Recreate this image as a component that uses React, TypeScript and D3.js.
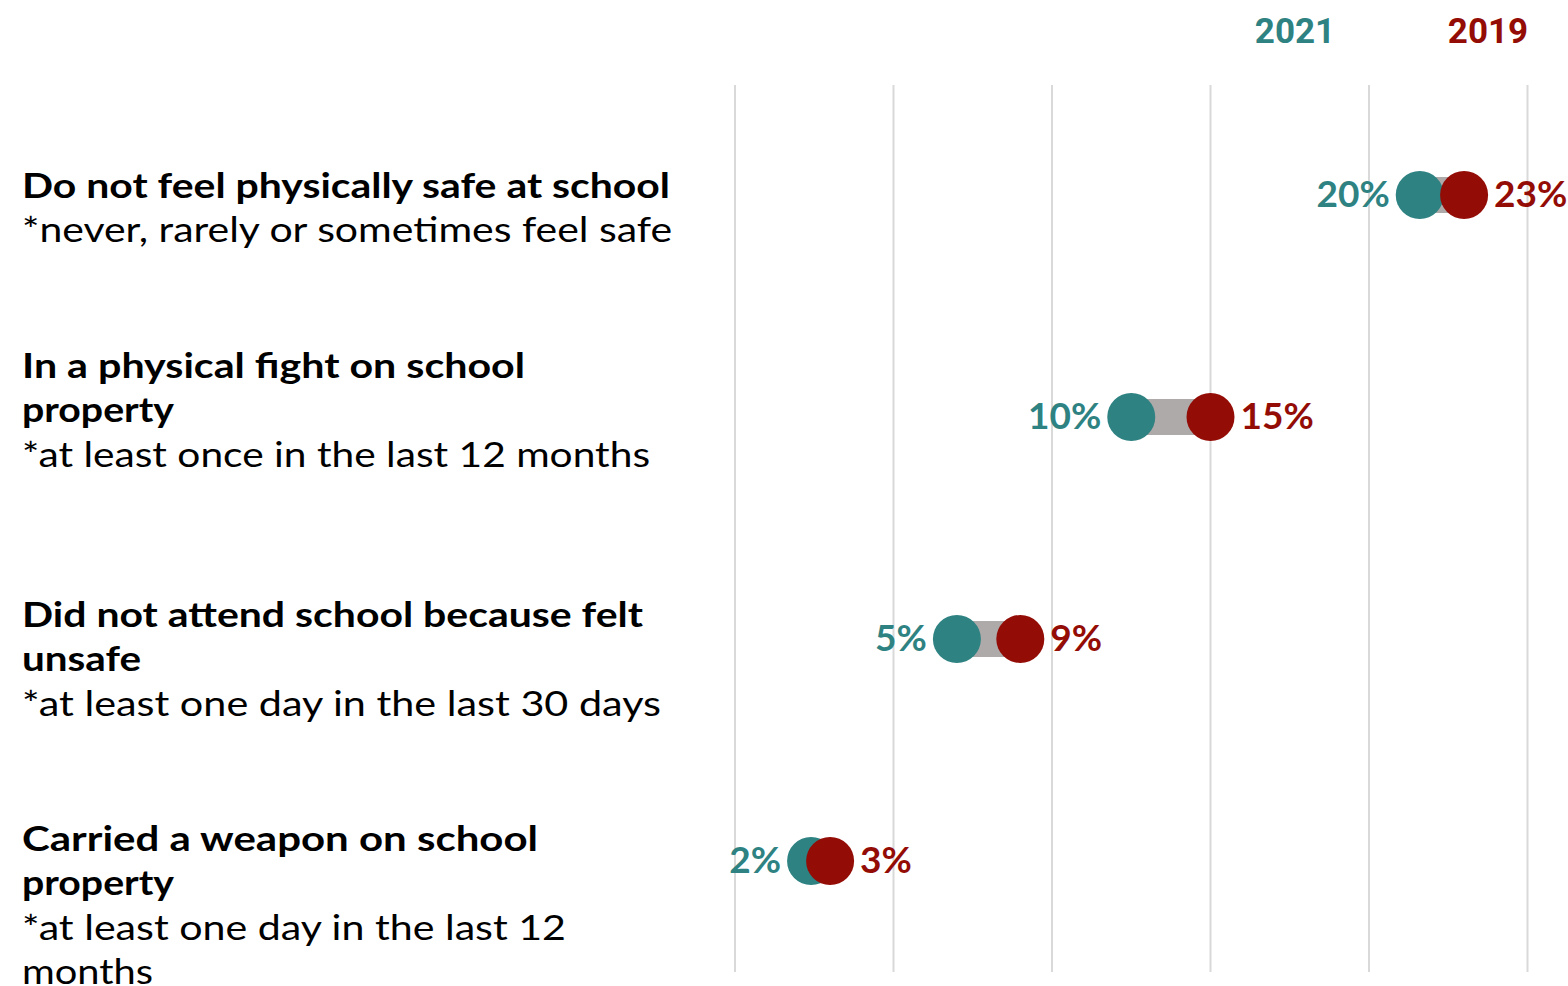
import React from "react";
import * as d3 from "d3";

const categories = [
  "Do not feel physically safe at school",
  "In a physical fight on school property",
  "Did not attend school because felt unsafe",
  "Carried a weapon on school property",
];
const titleLines = [
  ["Do not feel physically safe at school"],
  ["In a physical fight on school", "property"],
  ["Did not attend school because felt", "unsafe"],
  ["Carried a weapon on school", "property"],
];
const noteLines = [
  ["*never, rarely or sometimes feel safe"],
  ["*at least once in the last 12 months"],
  ["*at least one day in the last 30 days"],
  ["*at least one day in the last 12", "months"],
];
const values2021 = [21.6, 12.5, 7.0, 2.4];
const values2019 = [23, 15, 9, 3];
const labels2021 = ["20%", "10%", "5%", "2%"];
const labels2019 = ["23%", "15%", "9%", "3%"];
const gridTicks = [0, 5, 10, 15, 20, 25];
const seriesNames = ["2021", "2019"];

const W = 1568;
const H = 986;
const TEAL = "#2e8282";
const RED = "#930c06";
const FONT = "Lato, 'Noto Sans', sans-serif";
const firstBaselineOffset = [3, -39, -12, -10];
// rendered widths of each text line in the reference layout
const lineWidths = [
  [648, 650],
  [503, 152, 628],
  [621, 119, 639],
  [516, 152, 544, 131],
];

export default function App() {
  const x = d3.scaleLinear().domain([0, 25]).range([735, 1527.5]);
  const y = d3.scalePoint<string>().domain(categories).range([195, 861]);
  const r = 24;
  const lineH = 44.3;
  return (
    <div style={{ position: "absolute", left: 0, top: 0 }}>
      <svg width={W} height={H} style={{ display: "block" }}>
        <rect width={W} height={H} fill="#fff" />
        {gridTicks.map((t) => (
          <line key={t} x1={x(t)} x2={x(t)} y1={85} y2={972} stroke="#d9d9d9" strokeWidth={2} />
        ))}
        <text x={1295} y={43} textAnchor="middle" fill={TEAL} fontFamily="Roboto, sans-serif" fontWeight={700} fontSize={35}>{seriesNames[0]}</text>
        <text x={1488} y={43} textAnchor="middle" fill={RED} fontFamily="Roboto, sans-serif" fontWeight={700} fontSize={35}>{seriesNames[1]}</text>
        {categories.map((c, i) => {
          const cy = y(c)!;
          const base = cy + firstBaselineOffset[i];
          const lines = [
            ...titleLines[i].map((t) => ({ t, bold: true })),
            ...noteLines[i].map((t) => ({ t, bold: false })),
          ];
          const x1 = x(values2021[i]);
          const x2 = x(values2019[i]);
          return (
            <g key={c}>
              {lines.map((l, j) => (
                <text key={j} x={22} y={base + j * lineH} fontFamily={FONT} fontWeight={l.bold ? 700 : 400} fontSize={l.bold ? 34 : 35} fill="#000" textLength={lineWidths[i][j]} lengthAdjust="spacingAndGlyphs">{l.t}</text>
              ))}
              <rect x={Math.min(x1, x2)} y={cy - 18} width={Math.abs(x2 - x1)} height={36} fill="#aeaaaa" />
              <circle cx={x1} cy={cy} r={r} fill={TEAL} />
              <circle cx={x2} cy={cy} r={r} fill={RED} />
              <text x={x1 - r - 6} y={cy + 12} textAnchor="end" fill={TEAL} fontFamily={FONT} fontWeight={700} fontSize={37}>{labels2021[i]}</text>
              <text x={x2 + r + 6} y={cy + 12} textAnchor="start" fill={RED} fontFamily={FONT} fontWeight={700} fontSize={37}>{labels2019[i]}</text>
            </g>
          );
        })}
      </svg>
    </div>
  );
}
